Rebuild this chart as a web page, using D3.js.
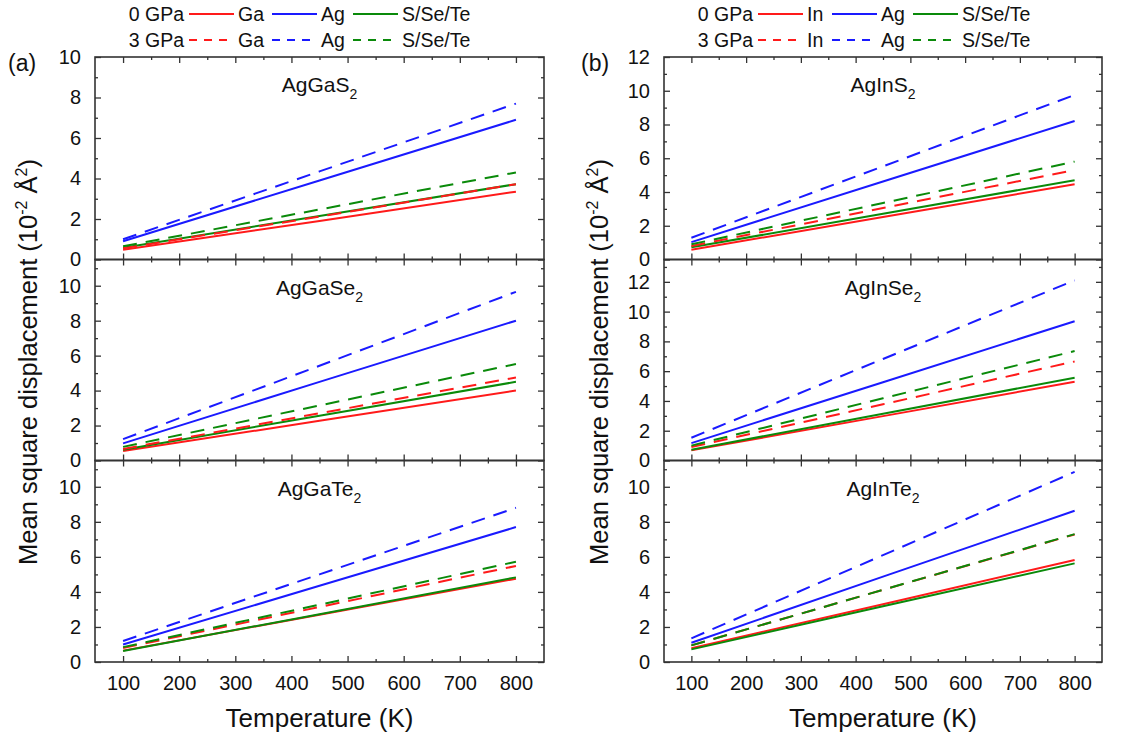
<!DOCTYPE html>
<html><head><meta charset="utf-8">
<script src="https://cdn.jsdelivr.net/npm/d3@7"></script>
<style>
body{margin:0;background:#fff;}
text{font-family:"Liberation Sans",Arial,sans-serif;fill:#111;}
</style></head>
<body><svg id="c" width="1121" height="738"></svg>
<script>
// ---------- data ----------
const temps = [100, 450, 800];
const xTicks = [100, 200, 300, 400, 500, 600, 700, 800];

// (a) AgGaS2
const AgGaS2_0_Ga = [0.48, 1.90, 3.35];
const AgGaS2_0_Ag = [0.90, 3.90, 6.90];
const AgGaS2_0_X  = [0.58, 2.15, 3.72];
const AgGaS2_3_Ga = [0.55, 2.12, 3.72];
const AgGaS2_3_Ag = [1.00, 4.35, 7.70];
const AgGaS2_3_X  = [0.65, 2.47, 4.30];
// (a) AgGaSe2
const AgGaSe2_0_Ga = [0.54, 2.27, 4.00];
const AgGaSe2_0_Ag = [0.98, 4.50, 8.00];
const AgGaSe2_0_X  = [0.62, 2.56, 4.50];
const AgGaSe2_3_Ga = [0.66, 2.70, 4.75];
const AgGaSe2_3_Ag = [1.22, 5.42, 9.65];
const AgGaSe2_3_X  = [0.78, 3.15, 5.52];
// (a) AgGaTe2
const AgGaTe2_0_Ga = [0.65, 2.70, 4.75];
const AgGaTe2_0_Ag = [1.00, 4.35, 7.70];
const AgGaTe2_0_X  = [0.63, 2.73, 4.83];
const AgGaTe2_3_Ga = [0.80, 3.14, 5.48];
const AgGaTe2_3_Ag = [1.20, 5.00, 8.80];
const AgGaTe2_3_X  = [0.85, 3.27, 5.72];
// (b) AgInS2
const AgInS2_0_In = [0.58, 2.52, 4.46];
const AgInS2_0_Ag = [1.03, 4.62, 8.21];
const AgInS2_0_X  = [0.72, 2.71, 4.70];
const AgInS2_3_In = [0.80, 3.05, 5.30];
const AgInS2_3_Ag = [1.29, 5.52, 9.75];
const AgInS2_3_X  = [0.90, 3.35, 5.80];
// (b) AgInSe2
const AgInSe2_0_In = [0.68, 2.98, 5.29];
const AgInSe2_0_Ag = [1.17, 5.26, 9.35];
const AgInSe2_0_X  = [0.72, 3.14, 5.56];
const AgInSe2_3_In = [0.90, 3.78, 6.65];
const AgInSe2_3_Ag = [1.53, 6.82, 12.10];
const AgInSe2_3_X  = [1.00, 4.18, 7.35];
// (b) AgInTe2
const AgInTe2_0_In = [0.78, 3.30, 5.82];
const AgInTe2_0_Ag = [1.10, 4.87, 8.63];
const AgInTe2_0_X  = [0.72, 3.18, 5.63];
const AgInTe2_3_In = [0.95, 4.12, 7.28];
const AgInTe2_3_Ag = [1.35, 6.10, 10.85];
const AgInTe2_3_X  = [0.95, 4.12, 7.30];

const anionLabels = ["S", "Se", "Te"];
const yMaxA = [10, 11.5, 11.5];
const yMaxB = [12, 13.5, 11.5];
const yTickTopA = [10, 10, 10];
const yTickTopB = [12, 12, 10];

const colRed = "#ff1a1a", colBlue = "#1a1aff", colGreen = "#0a8a0a";

const panelsA = [
  [AgGaS2_0_Ga, AgGaS2_0_Ag, AgGaS2_0_X, AgGaS2_3_Ga, AgGaS2_3_Ag, AgGaS2_3_X],
  [AgGaSe2_0_Ga, AgGaSe2_0_Ag, AgGaSe2_0_X, AgGaSe2_3_Ga, AgGaSe2_3_Ag, AgGaSe2_3_X],
  [AgGaTe2_0_Ga, AgGaTe2_0_Ag, AgGaTe2_0_X, AgGaTe2_3_Ga, AgGaTe2_3_Ag, AgGaTe2_3_X]
];
const panelsB = [
  [AgInS2_0_In, AgInS2_0_Ag, AgInS2_0_X, AgInS2_3_In, AgInS2_3_Ag, AgInS2_3_X],
  [AgInSe2_0_In, AgInSe2_0_Ag, AgInSe2_0_X, AgInSe2_3_In, AgInSe2_3_Ag, AgInSe2_3_X],
  [AgInTe2_0_In, AgInTe2_0_Ag, AgInTe2_0_X, AgInTe2_3_In, AgInTe2_3_Ag, AgInTe2_3_X]
];
const seriesColors = [colRed, colBlue, colGreen, colRed, colBlue, colGreen];
const seriesDashed = [false, false, false, true, true, true];

// ---------- drawing ----------
const svg = d3.select("#c");
const rowBounds = [[57, 259.5], [259.5, 460.5], [460.5, 662]];
const frameCol = "#333";

function styleTicks(s) {
  s.select(".domain").remove();
  s.selectAll("line").attr("stroke", frameCol).attr("stroke-width", 1.3);
}

function drawColumn(x0, x1, panels, yMaxes, yTopTick, prefix) {
  const x = d3.scaleLinear().domain([50, 850]).range([x0, x1]);
  panels.forEach((series, i) => {
    const [top, bot] = rowBounds[i];
    const y = d3.scaleLinear().domain([0, yMaxes[i]]).range([bot, top]);
    const g = svg.append("g");
    const majorsY = d3.range(0, yTopTick[i] + 0.01, 2);
    const minorsY = d3.range(1, yMaxes[i], 2);
    const minorsX = d3.range(150, 800, 100);
    const gl = g.append("g").attr("transform", `translate(${x0},0)`)
      .call(d3.axisLeft(y).tickValues(majorsY).tickSize(-6).tickPadding(14).tickFormat(d3.format("d")));
    styleTicks(gl);
    gl.selectAll("text").style("font-size", "20px").attr("fill", "#111");
    g.append("g").attr("transform", `translate(${x0},0)`).call(d3.axisLeft(y).tickValues(minorsY).tickSize(-3).tickFormat("")).call(styleTicks);
    g.append("g").attr("transform", `translate(${x1},0)`).call(d3.axisRight(y).tickValues(majorsY).tickSize(-6).tickFormat("")).call(styleTicks);
    g.append("g").attr("transform", `translate(${x1},0)`).call(d3.axisRight(y).tickValues(minorsY).tickSize(-3).tickFormat("")).call(styleTicks);
    const gb = g.append("g").attr("transform", `translate(0,${bot})`)
      .call(d3.axisBottom(x).tickValues(xTicks).tickSize(-6).tickPadding(14).tickFormat(i === 2 ? d3.format("d") : ""));
    styleTicks(gb);
    gb.selectAll("text").style("font-size", "20px").attr("fill", "#111");
    g.append("g").attr("transform", `translate(0,${bot})`).call(d3.axisBottom(x).tickValues(minorsX).tickSize(-3).tickFormat("")).call(styleTicks);
    g.append("g").attr("transform", `translate(0,${top})`).call(d3.axisTop(x).tickValues(xTicks).tickSize(-6).tickFormat("")).call(styleTicks);
    g.append("g").attr("transform", `translate(0,${top})`).call(d3.axisTop(x).tickValues(minorsX).tickSize(-3).tickFormat("")).call(styleTicks);
    const line = d3.line().x((d, k) => x(temps[k])).y(d => y(d));
    series.forEach((vals, k) => {
      g.append("path").datum(vals).attr("d", line)
        .attr("fill", "none").attr("stroke", seriesColors[k]).attr("stroke-width", 2)
        .attr("stroke-dasharray", seriesDashed[k] ? "14,9" : null);
    });
    g.append("rect").attr("x", x0).attr("y", top).attr("width", x1 - x0).attr("height", bot - top)
      .attr("fill", "none").attr("stroke", frameCol).attr("stroke-width", 1.6);
    const t = g.append("text").attr("x", (x0 + x1) / 2).attr("y", top + 35).attr("text-anchor", "middle").style("font-size", "21px");
    t.append("tspan").text(prefix + anionLabels[i]);
    t.append("tspan").attr("dy", 7).style("font-size", "14px").text("2");
  });
  svg.append("text").attr("x", (x0 + x1) / 2).attr("y", 727).attr("text-anchor", "middle").style("font-size", "26px").text("Temperature (K)");
}

drawColumn(95, 544, panelsA, yMaxA, yTickTopA, "AgGa");
drawColumn(664, 1102, panelsB, yMaxB, yTickTopB, "AgIn");

function yTitle(xb) {
  const t = svg.append("text").attr("transform", `translate(${xb},362) rotate(-90)`).attr("text-anchor", "middle").style("font-size", "25.5px");
  t.append("tspan").text("Mean square displacement (10");
  t.append("tspan").attr("dy", -10).style("font-size", "16px").text("-2");
  t.append("tspan").attr("dy", 10).text(" Å");
  t.append("tspan").attr("dy", -10).style("font-size", "16px").text("2");
  t.append("tspan").attr("dy", 10).text(")");
}
yTitle(37);
yTitle(608);

svg.append("text").attr("x", 8).attr("y", 71).style("font-size", "23px").text("(a)");
svg.append("text").attr("x", 581).attr("y", 71).style("font-size", "23px").text("(b)");

const legendLabelsA = ["Ga", "Ag", "S/Se/Te"];
const legendLabelsB = ["In", "Ag", "S/Se/Te"];
const legendPressures = ["0 GPa", "3 GPa"];
const legendCols = [colRed, colBlue, colGreen];
function legend(lineXs, labels) {
  legendPressures.forEach((p, r) => {
    const yc = r === 0 ? 14 : 40;
    svg.append("text").attr("x", lineXs[0] - 5).attr("y", yc + 7).attr("text-anchor", "end").style("font-size", "19.5px").text(p);
    lineXs.forEach((lx, k) => {
      svg.append("line").attr("x1", lx).attr("x2", lx + 45).attr("y1", yc).attr("y2", yc)
        .attr("stroke", legendCols[k]).attr("stroke-width", 2).attr("stroke-dasharray", r === 1 ? "8,7" : null);
      svg.append("text").attr("x", lx + 49).attr("y", yc + 7).style("font-size", "19.5px").text(labels[k]);
    });
  });
}
legend([189, 272, 353], legendLabelsA);
legend([758, 832, 913], legendLabelsB);
</script></body></html>
